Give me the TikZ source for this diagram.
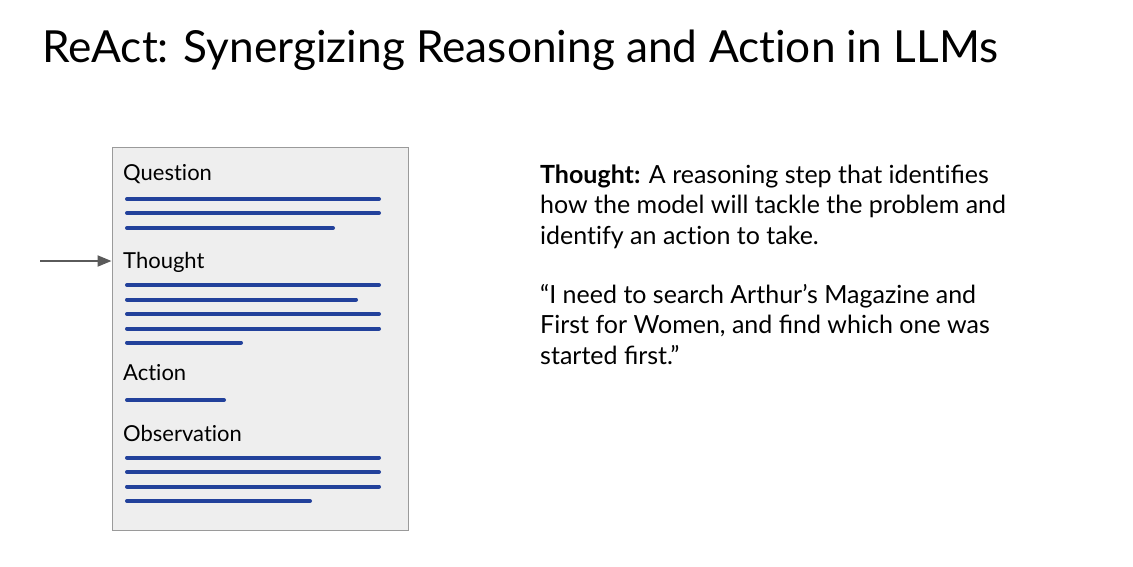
\documentclass[tikz,border=0pt]{standalone}
\usepackage{fontspec}
\setmainfont{Lato}
\usetikzlibrary{arrows.meta}
% keep "t" and "i" apart (Lato would join them into one glyph)
\newcommand\nolig{\kern0pt }
\definecolor{panelfill}{HTML}{EEEEEE}
\definecolor{panelline}{HTML}{9A9A9A}
\definecolor{textbar}{HTML}{22419B}
\definecolor{pointer}{HTML}{5A5A5A}
\tikzset{
  bar/.style={line width=4pt, line cap=round, textbar},
  section/.style={anchor=base west, inner sep=0pt, font=\fontsize{22}{26}\selectfont},
  para/.style={anchor=base west, inner sep=0pt, align=left, font=\fontsize{25}{30.5}\selectfont},
}
\begin{document}
\begin{tikzpicture}[x=1pt, y=-1pt]
\useasboundingbox (0,0) rectangle (1133,566);
\fill[white] (0,0) rectangle (1133,566);

% title
\node[anchor=base west, inner sep=0pt, font=\fontsize{44.2}{52}\selectfont] (title) at (42,62)
  {ReAct: Synergizing Reasoning and Act\nolig ion in LLMs};

% trace panel
\node[draw=panelline, fill=panelfill, line width=1pt, minimum width=296pt, minimum height=383pt,
      anchor=north west, inner sep=0pt] (panel) at (111.5,147) {};

\node[section] (q) at (123,180.5) {Quest\nolig ion};
\draw[bar] (127,199) -- (379,199);
\draw[bar] (127,213) -- (379,213);
\draw[bar] (127,228) -- (333,228);

\node[section] (t) at (123,268.5) {Thought};
\draw[bar] (127,285) -- (379,285);
\draw[bar] (127,299.5) -- (356,299.5);
\draw[bar] (127,314) -- (379,314);
\draw[bar] (127,328.5) -- (379,328.5);
\draw[bar] (127,342.5) -- (241,342.5);

\node[section] (a) at (123,380.5) {Act\nolig ion};
\draw[bar] (127,400) -- (224,400);

\node[section] (o) at (123,441) {Observat\nolig ion};
\draw[bar] (127,457.5) -- (379,457.5);
\draw[bar] (127,472) -- (379,472);
\draw[bar] (127,486.5) -- (379,486.5);
\draw[bar] (127,501) -- (310,501);

% pointer to the current step
\coordinate (start) at (40,261);
\draw[pointer, line width=2pt, -{Triangle[length=14pt, width=11pt]}] (start) -- (start -| panel.west);

% explanation (anchored at the baseline of the last line)
\node[para] (def) at (540,244)
  {\textbf{Thought:} A reasoning step that ident\nolig ifies\\
   how the model will tackle the problem and\\
   ident\nolig ify an act\nolig ion to take.};
\node[para] (quote) at (540,364)
  {“I need to search Arthur’s Magazine and\\
   First for Women, and find which one was\\
   started first.”};
\end{tikzpicture}
\end{document}
